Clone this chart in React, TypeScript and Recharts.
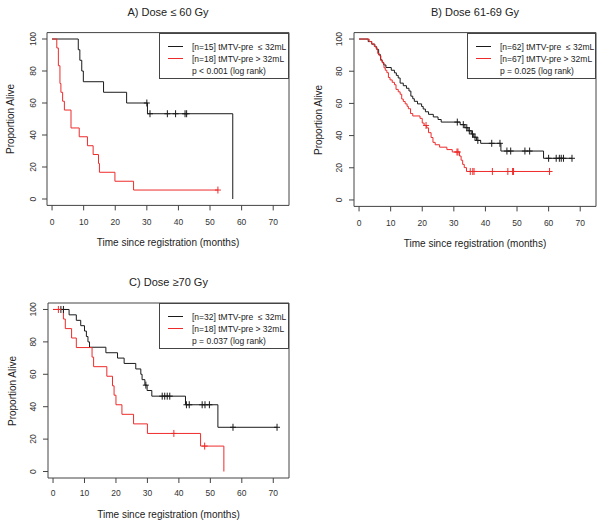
import React from 'react';
import { ComposedChart, Line, Scatter, XAxis, YAxis, ReferenceArea } from 'recharts';

const FONT = '"Liberation Sans", Arial, Helvetica, sans-serif';
const BLACK = '#1a1a1a';
const RED = '#ee2b2b';
const FRAME = '#444';

const xTicks = [0, 10, 20, 30, 40, 50, 60, 70];
const yTicks = [0, 20, 40, 60, 80, 100];

// Panel A: dose <= 60 Gy
const aBlackTimes = [0, 8.3, 8.8, 9.4, 9.9, 16.3, 23.6, 30.2, 57.2];
const aBlackSurv = [100, 93.3, 86.7, 80.0, 73.3, 66.7, 60.0, 53.3, 0];
const aBlackCensor = [30.0, 31.0, 36.5, 39.1, 42.1, 42.6];
const aRedTimes = [0, 1.5, 2.0, 2.5, 2.8, 3.35, 3.9, 6.0, 8.6, 11.2, 13.0, 14.7, 15.0, 19.9, 25.8, 52.5];
const aRedSurv = [100, 94.4, 83.3, 72.2, 66.7, 61.1, 55.6, 44.4, 38.9, 33.3, 27.8, 22.2, 16.7, 11.1, 5.6, 5.6];
const aRedCensor = [52.5];

// Panel B: dose 61-69 Gy
const bBlackTimes = [0, 2.9, 4.0, 5.0, 5.6, 6.2, 6.8, 7.3, 7.8, 8.5, 10.2, 11.2, 11.8, 12.4, 13.0, 14.0, 15.0, 15.8, 16.4, 17.0, 17.5, 18.5, 19.8, 20.3, 21.0, 22.0, 23.5, 25.0, 26.0, 32.0, 33.5, 34.5, 35.5, 36.3, 37.2, 38.5, 44.9, 58.4, 67.4];
const bBlackSurv = [100, 98.4, 96.8, 95.2, 93.5, 90.3, 87.1, 85.5, 83.9, 82.3, 80.6, 79.0, 77.4, 75.8, 72.6, 71.0, 69.4, 67.7, 64.5, 62.9, 61.3, 59.7, 58.1, 56.5, 54.8, 53.2, 51.6, 50.0, 48.4, 46.8, 44.9, 43.0, 41.0, 39.0, 37.0, 35.2, 30.4, 25.9, 25.9];
const bBlackCensor = [31.1, 33.0, 34.1, 34.9, 35.9, 36.7, 37.6, 42.0, 44.6, 46.8, 48.0, 52.5, 54.0, 60.0, 62.4, 63.4, 64.0, 64.7, 67.4];
const bRedTimes = [0, 3.2, 4.0, 4.8, 5.4, 5.9, 6.4, 6.9, 7.4, 7.9, 8.3, 8.8, 9.3, 9.8, 10.5, 11.2, 11.7, 12.4, 13.0, 13.5, 14.0, 14.6, 15.2, 15.6, 16.3, 17.0, 19.3, 20.0, 20.6, 21.4, 22.0, 22.8, 23.4, 24.1, 25.5, 27.8, 29.5, 31.8, 32.3, 32.8, 33.3, 34.0, 60.3];
const bRedSurv = [100, 98.5, 97.0, 95.5, 94.0, 91.0, 89.6, 86.6, 85.1, 82.1, 80.6, 79.1, 76.1, 74.6, 73.1, 71.6, 68.7, 67.2, 65.7, 62.7, 61.2, 59.7, 58.2, 56.7, 53.7, 52.2, 50.7, 47.8, 46.3, 44.8, 41.8, 38.8, 35.8, 34.3, 32.8, 31.3, 29.8, 27.3, 24.7, 22.1, 20.1, 17.7, 17.7];
const bRedCensor = [21.2, 31.0, 31.3, 35.2, 36.0, 36.4, 42.2, 47.1, 48.6, 48.9, 60.3];

// Panel C: dose >= 70 Gy
const cBlackTimes = [0, 5.1, 7.4, 8.8, 10.0, 10.6, 11.1, 11.6, 16.8, 20.5, 22.6, 26.3, 27.9, 28.3, 29.2, 29.9, 31.4, 42.1, 52.4, 71.2];
const cBlackSurv = [100, 96.7, 93.3, 90.0, 86.7, 83.3, 80.0, 76.7, 73.3, 70.0, 66.7, 63.3, 60.0, 56.7, 53.3, 50.0, 46.5, 41.2, 27.3, 27.3];
const cBlackCensor = [2.5, 3.3, 29.5, 34.7, 35.5, 36.3, 37.1, 42.4, 43.3, 47.4, 48.3, 49.7, 57.2, 71.2];
const cRedTimes = [0, 3.3, 3.9, 5.9, 7.4, 12.4, 12.9, 17.1, 18.9, 19.4, 20.0, 21.9, 25.6, 30.0, 46.9, 54.3];
const cRedSurv = [100, 94.1, 88.2, 82.4, 76.5, 70.6, 64.7, 58.8, 52.9, 47.1, 41.2, 35.3, 29.4, 23.5, 15.7, 0];
const cRedCensor = [1.7, 38.4, 48.2];

const survAt = (times: number[], surv: number[], t: number) => {
	let v = surv[0];
	for (let i = 0; i < times.length; i++) {
		if (times[i] <= t) v = surv[i];
	}
	return v;
};

const toSteps = (times: number[], surv: number[]) => times.map((t, i) => ({ t, s: surv[i] }));
const toCensor = (times: number[], surv: number[], cens: number[]) =>
	cens.map((t) => ({ t, s: survAt(times, surv, t) }));

const plusShape = (color: string) => (props: any) => {
	const { cx, cy } = props;
	return (
		<path
			d={`M${cx - 3},${cy}H${cx + 3}M${cx},${cy - 3.5}V${cy + 3.5}`}
			stroke={color}
			strokeWidth={1}
			fill="none"
		/>
	);
};

const YTick = (props: any) => {
	const { x, y, payload } = props;
	const bx = x - 4.5;
	return (
		<text
			x={bx}
			y={y}
			transform={`rotate(-90 ${bx} ${y})`}
			textAnchor="middle"
			fontSize={8.5}
			fill="#333"
			fontFamily={FONT}
		>
			{payload.value}
		</text>
	);
};

interface Series {
	times: number[];
	surv: number[];
	censor: number[];
}

interface PanelProps {
	left: number;
	top: number;
	width: number;
	height: number;
	boxLeft: number;
	boxRight: number;
	boxTop: number;
	boxBottom: number;
	legendLeft: number;
	xTickMargin: number;
	xTitleGap: number;
	title: string;
	legend: string[];
	black: Series;
	red: Series;
}

function Panel(p: PanelProps) {
	const boxW = p.boxRight - p.boxLeft;
	const boxH = p.boxBottom - p.boxTop;
	const midY = (p.boxTop + p.boxBottom) / 2;
	const text: React.CSSProperties = { position: 'absolute', fontFamily: FONT, color: '#222', whiteSpace: 'pre' };
	return (
		<div style={{ position: 'absolute', left: p.left, top: p.top, width: p.width, height: p.height }}>
			<ComposedChart
				width={p.width}
				height={p.height}
				margin={{ top: p.boxTop, right: p.width - p.boxRight, bottom: 0, left: 0 }}
			>
				<XAxis
					type="number"
					dataKey="t"
					domain={[-1.6, 75]}
					ticks={xTicks}
					allowDataOverflow
					axisLine={false}
					tickSize={5}
					tickMargin={p.xTickMargin}
					tickLine={{ stroke: FRAME }}
					tick={{ fontSize: 8.5, fill: '#333', fontFamily: FONT }}
					height={p.height - p.boxBottom}
				/>
				<YAxis
					type="number"
					dataKey="s"
					domain={[-4, 104]}
					ticks={yTicks}
					allowDataOverflow
					axisLine={false}
					tickSize={5}
					tickLine={{ stroke: FRAME }}
					tick={<YTick />}
					width={p.boxLeft}
				/>
				<ReferenceArea x1={-1.6} x2={75} y1={-4} y2={104} fill="none" stroke={FRAME} strokeWidth={1} />
				<Line
					data={toSteps(p.black.times, p.black.surv)}
					dataKey="s"
					type="stepAfter"
					stroke={BLACK}
					strokeWidth={1}
					dot={false}
					isAnimationActive={false}
				/>
				<Line
					data={toSteps(p.red.times, p.red.surv)}
					dataKey="s"
					type="stepAfter"
					stroke={RED}
					strokeWidth={1}
					dot={false}
					isAnimationActive={false}
				/>
				<Scatter
					data={toCensor(p.black.times, p.black.surv, p.black.censor)}
					dataKey="s"
					shape={plusShape(BLACK)}
					isAnimationActive={false}
				/>
				<Scatter
					data={toCensor(p.red.times, p.red.surv, p.red.censor)}
					dataKey="s"
					shape={plusShape(RED)}
					isAnimationActive={false}
				/>
			</ComposedChart>

			<div style={{ ...text, left: p.boxLeft, width: boxW, top: p.boxTop - 28, lineHeight: '14px', fontSize: 11, textAlign: 'center' }}>
				{p.title}
			</div>
			<div style={{ ...text, left: p.boxLeft, width: boxW, top: p.boxBottom + p.xTitleGap - 6, lineHeight: '12px', fontSize: 10, textAlign: 'center' }}>
				Time since registration (months)
			</div>
			<div
				style={{
					...text,
					left: p.boxLeft - 35.5 - boxH / 2,
					width: boxH,
					top: midY - 6,
					lineHeight: '12px',
					fontSize: 10,
					textAlign: 'center',
					transform: 'rotate(-90deg)',
				}}
			>
				Proportion Alive
			</div>

			<div
				style={{
					position: 'absolute',
					left: p.legendLeft,
					top: p.boxTop,
					width: p.boxRight - p.legendLeft,
					height: 46,
					boxSizing: 'border-box',
					border: `1px solid ${FRAME}`,
					background: '#fff',
				}}
			>
				{p.legend.map((row, i) => (
					<React.Fragment key={row}>
						{i < 2 && (
							<div
								style={{
									position: 'absolute',
									left: 8,
									top: 12 + i * 12,
									width: 15,
									height: 1,
									background: i === 0 ? BLACK : RED,
								}}
							/>
						)}
						<div style={{ ...text, left: 32, top: 7 + i * 12, lineHeight: '12px', fontSize: 8.5 }}>{row}</div>
					</React.Fragment>
				))}
			</div>
		</div>
	);
}

export default function App() {
	return (
		<div style={{ position: 'absolute', left: 0, top: 0, width: 602, height: 526, background: '#fff', overflow: 'hidden' }}>
			<Panel
				left={0}
				top={0}
				width={300}
				height={260}
				boxLeft={47}
				boxRight={289}
				boxTop={32.6}
				boxBottom={205.4}
				legendLeft={159}
				xTickMargin={9}
				xTitleGap={38}
				title="A) Dose ≤ 60 Gy"
				legend={['[n=15] tMTV-pre  ≤ 32mL', '[n=18] tMTV-pre > 32mL', 'p < 0.001 (log rank)']}
				black={{ times: aBlackTimes, surv: aBlackSurv, censor: aBlackCensor }}
				red={{ times: aRedTimes, surv: aRedSurv, censor: aRedCensor }}
			/>
			<Panel
				left={300}
				top={0}
				width={302}
				height={260}
				boxLeft={54}
				boxRight={296}
				boxTop={32.6}
				boxBottom={206.4}
				legendLeft={167}
				xTickMargin={9}
				xTitleGap={38}
				title="B) Dose 61-69 Gy"
				legend={['[n=62] tMTV-pre  ≤ 32mL', '[n=67] tMTV-pre > 32mL', 'p = 0.025 (log rank)']}
				black={{ times: bBlackTimes, surv: bBlackSurv, censor: bBlackCensor }}
				red={{ times: bRedTimes, surv: bRedSurv, censor: bRedCensor }}
			/>
			<Panel
				left={0}
				top={260}
				width={300}
				height={266}
				boxLeft={48}
				boxRight={289}
				boxTop={43}
				boxBottom={218}
				legendLeft={159}
				xTickMargin={7}
				xTitleGap={37}
				title="C) Dose ≥70 Gy"
				legend={['[n=32] tMTV-pre  ≤ 32mL', '[n=18] tMTV-pre > 32mL', 'p = 0.037 (log rank)']}
				black={{ times: cBlackTimes, surv: cBlackSurv, censor: cBlackCensor }}
				red={{ times: cRedTimes, surv: cRedSurv, censor: cRedCensor }}
			/>
		</div>
	);
}
